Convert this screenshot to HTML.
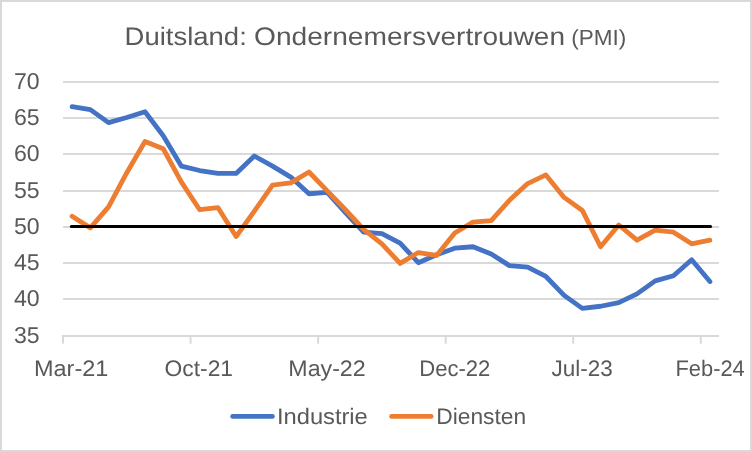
<!DOCTYPE html>
<html><head><meta charset="utf-8"><title>Duitsland: Ondernemersvertrouwen (PMI)</title>
<style>
html,body{margin:0;padding:0;background:#fff;}
svg{display:block;}
text{font-family:"Liberation Sans",sans-serif;fill:#595959;text-rendering:geometricPrecision;}
</style></head><body>
<svg width="752" height="452" viewBox="0 0 752 452">
<rect x="0" y="0" width="752" height="452" fill="#ffffff"/>
<rect x="1" y="1" width="750" height="450" fill="none" stroke="#d9d9d9" stroke-width="2"/>
<rect x="63" y="81" width="656" height="2" fill="#d9d9d9"/>
<rect x="63" y="117" width="656" height="2" fill="#d9d9d9"/>
<rect x="63" y="153" width="656" height="2" fill="#d9d9d9"/>
<rect x="63" y="190" width="656" height="2" fill="#d9d9d9"/>
<rect x="63" y="226" width="656" height="2" fill="#d9d9d9"/>
<rect x="63" y="262" width="656" height="2" fill="#d9d9d9"/>
<rect x="63" y="298" width="656" height="2" fill="#d9d9d9"/>
<rect x="63" y="335" width="656" height="2" fill="#d9d9d9"/>
<rect x="62.00" y="335" width="2" height="8.6" fill="#d9d9d9"/>
<rect x="189.56" y="335" width="2" height="8.6" fill="#d9d9d9"/>
<rect x="317.11" y="335" width="2" height="8.6" fill="#d9d9d9"/>
<rect x="444.67" y="335" width="2" height="8.6" fill="#d9d9d9"/>
<rect x="572.22" y="335" width="2" height="8.6" fill="#d9d9d9"/>
<rect x="699.78" y="335" width="2" height="8.6" fill="#d9d9d9"/>
<text x="39.7" y="88.75" font-size="23.0" text-anchor="end" textLength="25.7" lengthAdjust="spacingAndGlyphs">70</text>
<text x="39.7" y="125.04" font-size="23.0" text-anchor="end" textLength="25.7" lengthAdjust="spacingAndGlyphs">65</text>
<text x="39.7" y="161.32" font-size="23.0" text-anchor="end" textLength="25.7" lengthAdjust="spacingAndGlyphs">60</text>
<text x="39.7" y="197.61" font-size="23.0" text-anchor="end" textLength="25.7" lengthAdjust="spacingAndGlyphs">55</text>
<text x="39.7" y="233.89" font-size="23.0" text-anchor="end" textLength="25.7" lengthAdjust="spacingAndGlyphs">50</text>
<text x="39.7" y="270.18" font-size="23.0" text-anchor="end" textLength="25.7" lengthAdjust="spacingAndGlyphs">45</text>
<text x="39.7" y="306.46" font-size="23.0" text-anchor="end" textLength="25.7" lengthAdjust="spacingAndGlyphs">40</text>
<text x="39.7" y="342.75" font-size="23.0" text-anchor="end" textLength="25.7" lengthAdjust="spacingAndGlyphs">35</text>
<text x="34.0" y="375.7" font-size="22.4" textLength="74.4" lengthAdjust="spacingAndGlyphs">Mar-21</text>
<text x="164.6" y="375.7" font-size="22.4" textLength="68.4" lengthAdjust="spacingAndGlyphs">Oct-21</text>
<text x="288.3" y="375.7" font-size="22.4" textLength="77.4" lengthAdjust="spacingAndGlyphs">May-22</text>
<text x="419.3" y="375.7" font-size="22.4" textLength="71.1" lengthAdjust="spacingAndGlyphs">Dec-22</text>
<text x="551.5" y="375.7" font-size="22.4" textLength="61.2" lengthAdjust="spacingAndGlyphs">Jul-23</text>
<text x="675.5" y="375.7" font-size="22.4" textLength="69.2" lengthAdjust="spacingAndGlyphs">Feb-24</text>
<text x="124.6" y="44.9" font-size="25.3" textLength="122.2" lengthAdjust="spacingAndGlyphs">Duitsland:</text>
<text x="254" y="44.9" font-size="25.3" textLength="172" lengthAdjust="spacingAndGlyphs">Ondernemers</text>
<text x="426.5" y="44.9" font-size="25.3" textLength="138.5" lengthAdjust="spacingAndGlyphs">vertrouwen</text>
<text x="571.2" y="44.8" font-size="21.9" textLength="55" lengthAdjust="spacingAndGlyphs">(PMI)</text>
<polyline points="72.11,106.67 90.33,109.58 108.56,122.64 126.78,117.56 145.00,111.75 163.22,135.70 181.44,166.18 199.67,170.54 217.89,173.44 236.11,173.44 254.33,156.02 272.56,166.18 290.78,177.07 309.00,193.76 327.22,192.31 345.44,212.63 363.67,232.22 381.89,233.67 400.11,243.11 418.33,262.70 436.56,254.72 454.78,248.19 473.00,246.74 491.22,253.99 509.44,265.61 527.67,267.06 545.89,276.49 564.11,295.36 582.33,308.42 600.56,306.25 618.78,302.62 637.00,293.91 655.22,280.85 673.44,275.77 691.67,259.80 709.89,281.57" fill="none" stroke="#4472c4" stroke-width="4.8" stroke-linecap="round" stroke-linejoin="round"/>
<polyline points="72.11,216.26 90.33,227.87 108.56,206.82 126.78,172.71 145.00,141.51 163.22,148.77 181.44,182.15 199.67,209.73 217.89,207.55 236.11,236.58 254.33,211.18 272.56,185.05 290.78,182.87 309.00,171.99 327.22,190.86 345.44,209.73 363.67,229.32 381.89,243.83 400.11,263.43 418.33,252.54 436.56,255.45 454.78,232.95 473.00,222.06 491.22,220.61 509.44,200.29 527.67,183.60 545.89,174.89 564.11,197.39 582.33,210.45 600.56,246.74 618.78,224.97 637.00,240.21 655.22,230.05 673.44,232.22 691.67,243.83 709.89,240.21" fill="none" stroke="#ed7d31" stroke-width="4.8" stroke-linecap="round" stroke-linejoin="round"/>
<line x1="71.31" y1="226.4" x2="710.59" y2="226.4" stroke="#000" stroke-width="3" stroke-linecap="round"/>
<line x1="232.7" y1="416.4" x2="272.4" y2="416.4" stroke="#4472c4" stroke-width="4.8" stroke-linecap="round"/>
<text x="277.0" y="423.7" font-size="22.4" textLength="90.8" lengthAdjust="spacingAndGlyphs">Industrie</text>
<line x1="391.6" y1="416.4" x2="431.1" y2="416.4" stroke="#ed7d31" stroke-width="4.8" stroke-linecap="round"/>
<text x="436.3" y="423.7" font-size="22.4" textLength="89.8" lengthAdjust="spacingAndGlyphs">Diensten</text>
</svg>
</body></html>
